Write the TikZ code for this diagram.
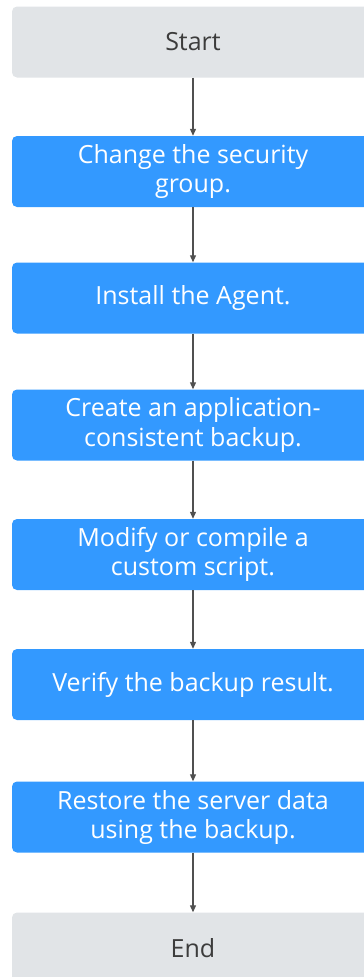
\documentclass[tikz,border=0pt]{standalone}
\usepackage{fontspec}
\setmainfont{Open Sans}
\usepackage{xcolor}
\usetikzlibrary{arrows.meta,positioning}

\definecolor{stepblue}{HTML}{3399FF}
\definecolor{termgray}{HTML}{E1E4E7}
\definecolor{termtext}{HTML}{3C3C3C}
\definecolor{flowline}{HTML}{505050}

\begin{document}
\begin{tikzpicture}[x=1pt,y=-1pt,
    stepbox/.style={fill=stepblue,text=white,rounded corners=5pt,
      minimum width=362pt,minimum height=71pt,inner sep=0pt,align=center,
      font=\fontsize{25}{29}\selectfont},
    termbox/.style={stepbox,fill=termgray,text=termtext},
    flow/.style={draw=flowline,line width=1.1pt,
      -{Triangle[length=7pt,width=6pt]}}]
  \useasboundingbox (0,0) rectangle (364,977);
  \clip (0,0) rectangle (364,977);
  % start and end
  \node[termbox] (s1) at (193,42) {Start};
  \node[termbox] (s8) at (193,948) {End};
  % the steps
  \foreach \txt/\yc [count=\i from 2] in {%
      {Change the security\\group.}/171.5,
      {Install the Agent.}/298,
      {Create an application-\\consistent backup.}/425,
      {Modify or compile a\\custom script.}/554.5,
      {Verify the backup result.}/684.5,
      {Restore the server data\\using the backup.}/817} {
    \node[stepbox] (s\i) at (193,\yc) {\txt};
  }
  % connectors
  \foreach \i [count=\j from 2] in {1,...,7} {
    \draw[flow] (s\i) -- (s\j);
  }
\end{tikzpicture}
\end{document}
